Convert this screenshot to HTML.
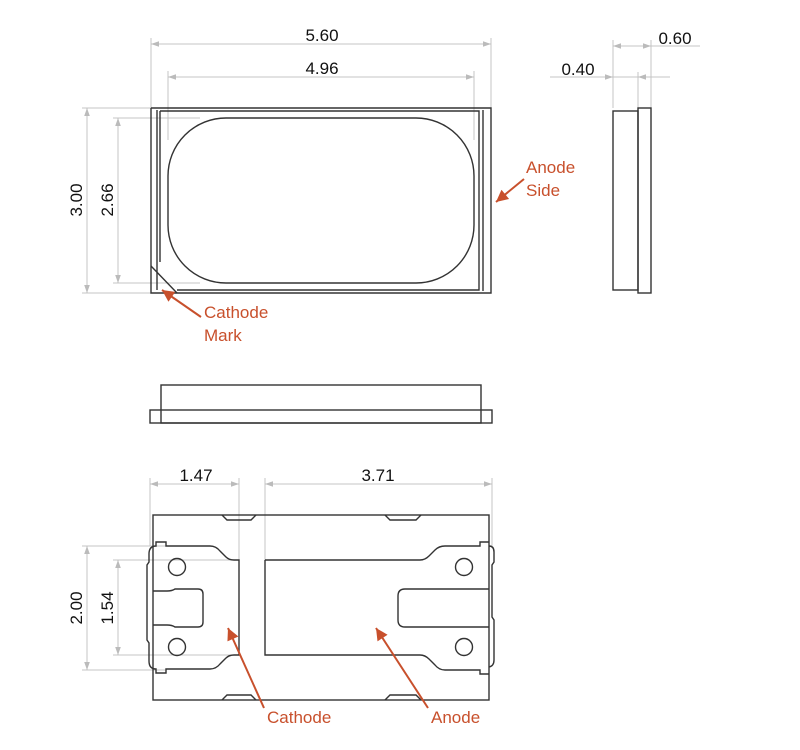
<!DOCTYPE html>
<html><head><meta charset="utf-8"><style>
html,body{margin:0;padding:0;background:#fff;}
svg{display:block;}
text{font-family:"Liberation Sans",sans-serif;}
</style></head><body>
<svg width="800" height="750" viewBox="0 0 800 750" xmlns="http://www.w3.org/2000/svg">
<defs>
<marker id="ga" viewBox="0 0 10 10" refX="10" refY="5" markerWidth="10" markerHeight="8" orient="auto-start-reverse" markerUnits="userSpaceOnUse"><path d="M0,1.5 L10,5 L0,8.5 z" fill="#bbb"/></marker>
<marker id="ra" viewBox="0 0 10 10" refX="10" refY="5" markerWidth="14" markerHeight="12" orient="auto" markerUnits="userSpaceOnUse"><path d="M0,0 L10,5 L0,10 z" fill="#c8502c"/></marker>
</defs>
<g stroke="#c4c4c4" stroke-width="1" fill="none">
<!-- top view dims -->
<line x1="151" y1="38" x2="151" y2="108"/><line x1="491" y1="38" x2="491" y2="108"/>
<line x1="151" y1="44" x2="491" y2="44" marker-start="url(#ga)" marker-end="url(#ga)"/>
<line x1="168" y1="71" x2="168" y2="140"/><line x1="474" y1="71" x2="474" y2="140"/>
<line x1="168" y1="77" x2="474" y2="77" marker-start="url(#ga)" marker-end="url(#ga)"/>
<line x1="82" y1="108" x2="151" y2="108"/><line x1="82" y1="293" x2="151" y2="293"/>
<line x1="87" y1="108" x2="87" y2="293" marker-start="url(#ga)" marker-end="url(#ga)"/>
<line x1="113" y1="118" x2="200" y2="118"/><line x1="113" y1="283" x2="200" y2="283"/>
<line x1="118" y1="118" x2="118" y2="283" marker-start="url(#ga)" marker-end="url(#ga)"/>
<!-- side dims -->
<line x1="613" y1="40" x2="613" y2="108"/><line x1="651" y1="40" x2="651" y2="108"/>
<line x1="638" y1="72" x2="638" y2="108"/>
<line x1="613" y1="46" x2="700" y2="46"/>
<line x1="628" y1="46" x2="613" y2="46" marker-end="url(#ga)"/><line x1="636" y1="46" x2="651" y2="46" marker-end="url(#ga)"/>
<line x1="550" y1="77" x2="670" y2="77"/>
<line x1="598" y1="77" x2="613" y2="77" marker-end="url(#ga)"/><line x1="653" y1="77" x2="638" y2="77" marker-end="url(#ga)"/>
<!-- bottom view dims -->
<line x1="150" y1="478" x2="150" y2="546"/><line x1="239" y1="478" x2="239" y2="560"/>
<line x1="150" y1="484" x2="239" y2="484" marker-start="url(#ga)" marker-end="url(#ga)"/>
<line x1="265" y1="478" x2="265" y2="560"/><line x1="492" y1="478" x2="492" y2="546"/>
<line x1="265" y1="484" x2="492" y2="484" marker-start="url(#ga)" marker-end="url(#ga)"/>
<line x1="82" y1="546" x2="166" y2="546"/><line x1="82" y1="670" x2="166" y2="670"/>
<line x1="87" y1="546" x2="87" y2="670" marker-start="url(#ga)" marker-end="url(#ga)"/>
<line x1="113" y1="560" x2="239" y2="560"/><line x1="113" y1="655" x2="239" y2="655"/>
<line x1="118" y1="560" x2="118" y2="655" marker-start="url(#ga)" marker-end="url(#ga)"/>
</g>
<g fill="#111" font-size="17" text-anchor="middle">
<text x="322" y="41">5.60</text>
<text x="322" y="74">4.96</text>
<text x="675" y="44">0.60</text>
<text x="578" y="75">0.40</text>
<text x="196" y="481">1.47</text>
<text x="378" y="481">3.71</text>
<text transform="translate(82,200) rotate(-90)">3.00</text>
<text transform="translate(113,200) rotate(-90)">2.66</text>
<text transform="translate(82,608) rotate(-90)">2.00</text>
<text transform="translate(113,608) rotate(-90)">1.54</text>
</g>
<g stroke="#333" stroke-width="1.4" fill="none">
<!-- top view -->
<path d="M151,108 H491 V293 H151 V266 M151,266 V108"/>
<path d="M157,110 V290 M160,111 H479 V290 H177 M160,111 V262"/>
<line x1="483" y1="110" x2="483" y2="291"/>
<line x1="151" y1="266" x2="177" y2="293"/>
<rect x="168" y="118" width="306" height="165" rx="58" ry="58"/>
<!-- side view -->
<rect x="613" y="111" width="25" height="179"/>
<rect x="638" y="108" width="13" height="185"/>
<!-- front view -->
<rect x="161" y="385" width="320" height="38"/>
<rect x="150" y="410" width="342" height="13"/>
<!-- bottom view -->
<rect x="153" y="515" width="336" height="185"/>
<path d="M222,515 l5,5 h24 l5,-5 M385,515 l5,5 h26 l5,-5"/>
<path d="M222,700 l5,-5 h24 l5,5 M385,700 l5,-5 h26 l5,5"/>
<path d="M166,542 v4 h44 q6,0 10,5 l6,6 q3,3 8,3 h5 V655 h-5 q-5,0 -8,3 l-6,6 q-4,5 -10,5 h-44 v4 h-10 v-4 q-7,0 -7,-8 v-18 l-2,-3 V565 l2,-3 v-8 q0,-8 7,-8 v-4 z"/>
<path d="M153,591 h14 q5,0 8,-2 h23 q5,0 5,5 v28 q0,5 -5,5 h-23 q-3,-2 -8,-2 h-14"/>
<path d="M265,560 V655 H420 q5,0 9,4 l6,6 q4,5 10,5 h35 v4 h9 M265,560 H420 q5,0 9,-4 l6,-6 q4,-4 10,-4 h35 v-4 h9"/>
<path d="M489,546 q5,0 5,6 v10 l-2,3 v52 l2,3 v40 q0,6 -5,7"/>
<path d="M489,589 h-84 q-7,0 -7,7 v24 q0,7 7,7 h84"/>
<circle cx="177" cy="567" r="8.5"/><circle cx="177" cy="647" r="8.5"/>
<circle cx="464" cy="567" r="8.5"/><circle cx="464" cy="647" r="8.5"/>
</g>
<g stroke="#c8502c" stroke-width="2" fill="none">
<line x1="524" y1="179" x2="496" y2="202" marker-end="url(#ra)"/>
<line x1="201" y1="317" x2="162" y2="290" marker-end="url(#ra)"/>
<line x1="264" y1="708" x2="228" y2="628" marker-end="url(#ra)"/>
<line x1="428" y1="708" x2="376" y2="628" marker-end="url(#ra)"/>
</g>
<g fill="#c8502c" font-size="17">
<text x="526" y="173">Anode</text><text x="526" y="196">Side</text>
<text x="204" y="318">Cathode</text><text x="204" y="341">Mark</text>
<text x="267" y="723">Cathode</text>
<text x="431" y="723">Anode</text>
</g>
</svg>
</body></html>
